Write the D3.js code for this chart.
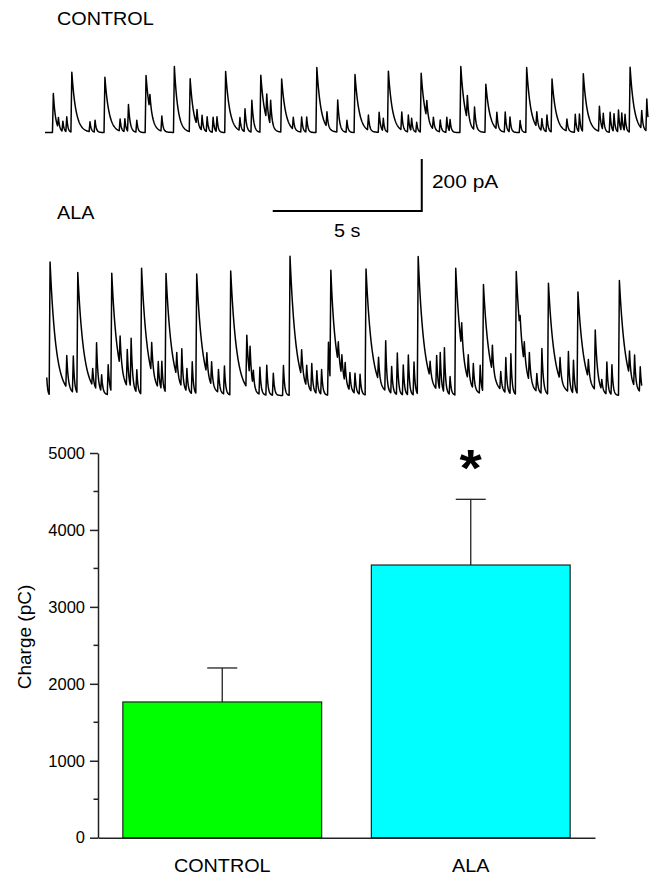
<!DOCTYPE html>
<html>
<head>
<meta charset="utf-8">
<script src="https://cdn.jsdelivr.net/npm/d3@7/dist/d3.min.js"></script>
<style>
  html, body { margin: 0; padding: 0; background: #fff; }
  svg { display: block; }
  text { font-family: "Liberation Sans", Arial, sans-serif; fill: #000; }
</style>
</head>
<body>
<svg id="chart" width="662" height="877"></svg>
<script>
// ---------------- DATA ----------------
// Trace events read from the recordings: [time (s), amplitude (pA), decay tau (s)]
const controlEvents = [
  [0.28,150,0.08],[0.45,40,0.04],[0.60,40,0.04],[0.73,58,0.04],[0.90,231,0.14],[1.51,38,0.04],[1.68,46,0.04],
  [2.01,212,0.14],[2.52,46,0.04],[2.68,50,0.04],[2.80,104,0.06],[3.08,46,0.04],[3.39,219,0.14],[3.52,60,0.06],
  [3.92,58,0.04],[4.34,254,0.12],[4.87,204,0.12],[5.10,58,0.04],[5.27,58,0.04],[5.44,58,0.04],[5.64,58,0.04],
  [5.77,58,0.04],[6.06,235,0.14],[6.54,50,0.04],[6.71,88,0.05],[6.94,123,0.06],[7.24,219,0.14],[7.44,96,0.05],
  [7.57,96,0.05],[7.94,204,0.14],[8.33,46,0.04],[8.61,58,0.04],[8.78,58,0.04],[9.12,250,0.14],[9.46,58,0.04],
  [9.82,123,0.06],[10.13,46,0.04],[10.40,223,0.14],[10.85,58,0.04],[11.21,77,0.05],[11.35,50,0.04],[11.52,235,0.14],
  [11.97,69,0.04],[12.19,65,0.04],[12.30,50,0.04],[12.47,38,0.04],[12.62,227,0.14],[12.81,65,0.05],[13.03,46,0.04],
  [13.26,46,0.04],[13.48,58,0.04],[13.59,46,0.04],[13.95,254,0.14],[14.17,90,0.05],[14.41,88,0.05],[14.79,185,0.14],
  [15.16,65,0.04],[15.44,77,0.04],[15.60,58,0.04],[15.94,46,0.04],[16.16,250,0.14],[16.50,58,0.04],[16.67,46,0.04],
  [16.84,65,0.04],[17.01,204,0.14],[17.51,46,0.04],[17.79,69,0.04],[17.93,69,0.04],[18.06,223,0.14],[18.60,96,0.05],
  [18.73,65,0.04],[18.96,77,0.04],[19.09,69,0.04],[19.24,85,0.04],[19.35,69,0.04],[19.46,65,0.04],[19.63,250,0.14],
  [20.02,69,0.04],[20.19,123,0.05]
];
const alaEvents = [
  [0.06,69,0.03],[0.17,512,0.2],[0.73,123,0.05],[0.95,140,0.04],[1.10,465,0.2],[1.60,65,0.04],[1.73,180,0.05],
  [1.90,65,0.04],[2.12,115,0.05],[2.24,458,0.2],[2.52,115,0.05],[2.76,142,0.05],[2.89,192,0.05],[3.08,88,0.04],
  [3.24,485,0.2],[3.58,115,0.05],[3.80,100,0.04],[3.92,110,0.04],[4.06,458,0.2],[4.42,88,0.04],[4.59,146,0.04],
  [4.76,88,0.04],[4.94,123,0.04],[5.09,462,0.2],[5.43,80,0.04],[5.59,90,0.04],[5.82,88,0.04],[6.02,108,0.04],
  [6.23,477,0.2],[6.77,200,0.08],[6.88,120,0.05],[6.99,60,0.04],[7.21,104,0.04],[7.44,115,0.04],[7.66,85,0.04],
  [8.00,115,0.04],[8.22,535,0.2],[8.61,100,0.05],[8.78,80,0.04],[8.95,108,0.04],[9.12,88,0.04],[9.28,96,0.04],
  [9.51,204,0.05],[9.59,440,0.2],[9.84,80,0.05],[9.96,80,0.05],[10.07,77,0.04],[10.23,69,0.04],[10.40,77,0.04],
  [10.57,77,0.04],[10.77,485,0.2],[11.19,88,0.04],[11.43,192,0.04],[11.63,104,0.04],[11.82,160,0.04],[12.02,115,0.04],
  [12.19,154,0.04],[12.38,127,0.04],[12.52,531,0.2],[12.92,60,0.04],[13.14,130,0.04],[13.26,146,0.04],[13.40,173,0.04],
  [13.59,69,0.04],[13.78,488,0.2],[13.98,100,0.05],[14.20,96,0.04],[14.37,96,0.04],[14.60,108,0.04],[14.71,415,0.2],
  [15.01,100,0.04],[15.29,69,0.04],[15.46,135,0.04],[15.63,154,0.04],[15.81,473,0.2],[15.94,60,0.05],[16.08,80,0.05],
  [16.25,110,0.05],[16.50,69,0.04],[16.67,173,0.05],[16.89,427,0.2],[17.28,85,0.04],[17.56,154,0.04],[17.73,127,0.04],
  [17.88,392,0.2],[18.23,70,0.04],[18.46,230,0.08],[18.68,40,0.04],[18.85,123,0.04],[19.02,115,0.04],[19.27,442,0.2],
  [19.61,90,0.04],[19.78,120,0.04],[19.97,96,0.04]
];
const controlSpan = [0, 20.23];   // recorded time window (s)
const alaSpan = [0.06, 20.02];
const scaleBarTime = 5;           // s
const scaleBarCurrent = 200;      // pA

// Bar chart
const categories = ["CONTROL", "ALA"];
const charge = [1764, 3544];      // pC
const chargeErr = [442, 854];     // pC
const barColors = ["#00ff00", "#00ffff"];
const yTicks = [0, 1000, 2000, 3000, 4000, 5000];
const yMinorTicks = [500, 1500, 2500, 3500, 4500];

// ---------------- DRAW ----------------
const svg = d3.select("#chart");
const SX = 1.1;  // horizontal stretch of labels in the reference

function label(x, y, txt, size, anchor, weight) {
  svg.append("text")
    .attr("transform", `translate(${x},${y}) scale(${SX},1)`)
    .attr("text-anchor", anchor || "start")
    .style("font-size", size + "px")
    .style("font-weight", weight || "normal")
    .text(txt);
}

// Time scale shared by both traces
const xT = d3.scaleLinear().domain([0, 20.23]).range([45, 648]);
const yCtrl = d3.scaleLinear().domain([0, 250]).range([132.5, 132.5 - 65]);
const yAla = d3.scaleLinear().domain([0, 500]).range([395.5, 395.5 - 130]);

function traceValues(events, span) {
  const rise = 0.03, step = 0.01;
  const ts = d3.range(span[0], span[1] + 1e-9, step);
  return ts.map(t => {
    let v = 0;
    for (const [t0, a, tau] of events) {
      const dt = t - t0;
      if (dt < -rise) continue;
      if (dt < 0) v += a * (dt + rise) / rise;
      else if (dt < tau * 12) v += a * Math.exp(-dt / tau);
    }
    return [t, v];
  });
}

const lineCtrl = d3.line().x(d => xT(d[0])).y(d => yCtrl(d[1]));
const lineAla = d3.line().x(d => xT(d[0])).y(d => yAla(d[1]));

svg.append("path").datum(traceValues(controlEvents, controlSpan))
  .attr("d", lineCtrl).attr("fill", "none").attr("stroke", "#000")
  .attr("stroke-width", 1.5).attr("stroke-linejoin", "round");
svg.append("path").datum(traceValues(alaEvents, alaSpan))
  .attr("d", lineAla).attr("fill", "none").attr("stroke", "#000")
  .attr("stroke-width", 1.5).attr("stroke-linejoin", "round");

// Scale bar
const sbEnd = 12.64, sbBase = 211;
const sbX0 = xT(sbEnd - scaleBarTime), sbX1 = xT(sbEnd);
const sbH = yAla(0) - yAla(scaleBarCurrent);
svg.append("path")
  .attr("d", `M${sbX0},${sbBase}H${sbX1}V${sbBase - sbH}`)
  .attr("fill", "none").attr("stroke", "#000").attr("stroke-width", 2);
label(432, 188, scaleBarCurrent + " pA", 19);
label((sbX0 + sbX1) / 2, 237, scaleBarTime + " s", 18, "middle");

label(57, 25, "CONTROL", 18);
label(57, 219, "ALA", 18);

// Bar chart
const yB = d3.scaleLinear().domain([0, 5000]).range([837.7, 453]);
const xB = d3.scaleBand().domain(categories).range([98, 595]).paddingInner(0.2).paddingOuter(0.1);

const bars = categories.map((c, i) => ({c, v: charge[i], e: chargeErr[i], col: barColors[i]}));

// error bars (upper only)
svg.selectAll(".err").data(bars).enter().append("g").each(function(d) {
  const g = d3.select(this);
  const cx = xB(d.c) + xB.bandwidth() / 2;
  g.append("line").attr("x1", cx).attr("x2", cx).attr("y1", yB(d.v)).attr("y2", yB(d.v + d.e))
    .attr("stroke", "#222").attr("stroke-width", 1.3);
  g.append("line").attr("x1", cx - 15).attr("x2", cx + 15).attr("y1", yB(d.v + d.e)).attr("y2", yB(d.v + d.e))
    .attr("stroke", "#222").attr("stroke-width", 1.3);
});

svg.selectAll(".bar").data(bars).enter().append("rect")
  .attr("x", d => xB(d.c)).attr("width", xB.bandwidth())
  .attr("y", d => yB(d.v)).attr("height", d => yB(0) - yB(d.v))
  .attr("fill", d => d.col).attr("stroke", "#222").attr("stroke-width", 1.2);

// Y axis
const yAxis = d3.axisLeft(yB).tickValues(yTicks).tickFormat(d3.format("d"))
  .tickSize(8).tickPadding(5).tickSizeOuter(0);
const gy = svg.append("g").attr("transform", "translate(98,0)").call(yAxis);
gy.attr("font-size", null).attr("font-family", null);
gy.select(".domain").attr("stroke", "#222").attr("stroke-width", 1.5);
gy.selectAll(".tick line").attr("stroke", "#222").attr("stroke-width", 1.5);
gy.selectAll(".tick text").attr("font-size", 16.5).style("font-size", "16.5px")
  .style("font-family", '"Liberation Sans", Arial, sans-serif');
gy.selectAll("line.minor").data(yMinorTicks).enter().append("line")
  .attr("class", "minor")
  .attr("x1", -4.5).attr("x2", 0).attr("y1", d => yB(d)).attr("y2", d => yB(d))
  .attr("stroke", "#222").attr("stroke-width", 1.5);

// X axis
const xAxis = d3.axisBottom(xB).tickSize(0).tickSizeOuter(0).tickFormat("");
const gx = svg.append("g").attr("transform", `translate(0,${yB(0)})`).call(xAxis);
gx.select(".domain").attr("stroke", "#222").attr("stroke-width", 1.5);

categories.forEach(c => label(xB(c) + xB.bandwidth() / 2, 872, c, 18, "middle"));

// Y title
svg.append("text")
  .attr("transform", "translate(31,637) rotate(-90)")
  .attr("text-anchor", "middle").style("font-size", "19px").text("Charge (pC)");

// Significance marker
label(xB("ALA") + xB.bandwidth() / 2, 486, "*", 52, "middle", "bold");
</script>
</body>
</html>
